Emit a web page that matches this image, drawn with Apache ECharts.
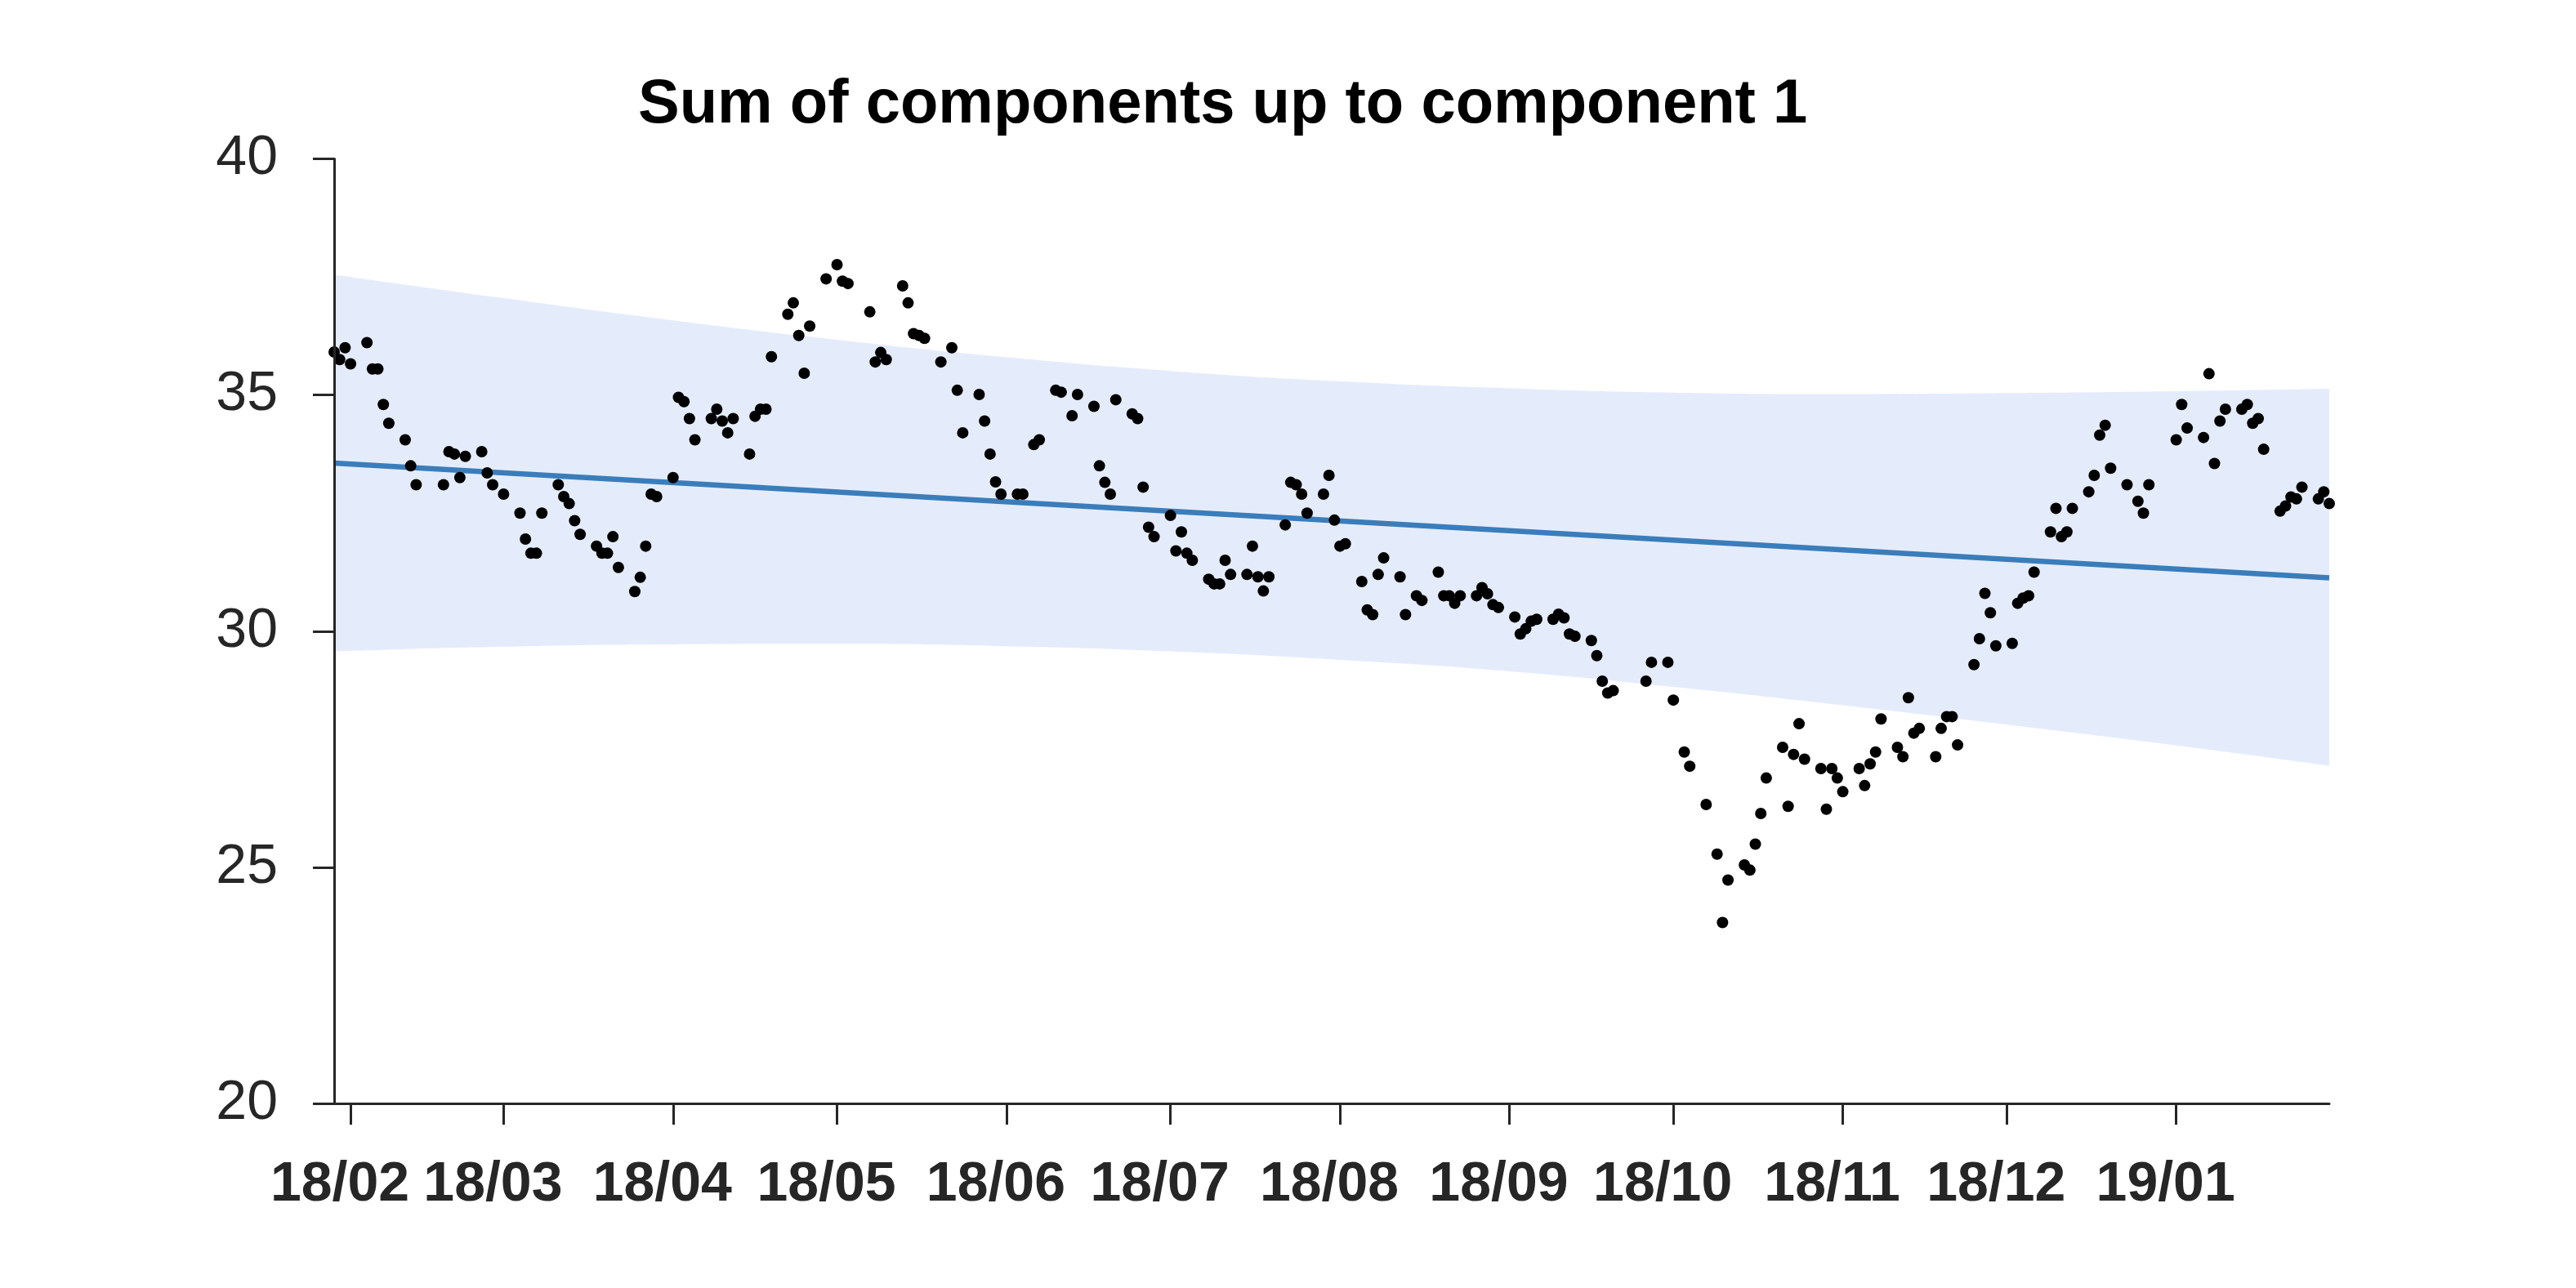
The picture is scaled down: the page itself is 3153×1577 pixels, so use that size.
<!DOCTYPE html>
<html><head><meta charset="utf-8">
<script src="https://cdn.jsdelivr.net/npm/echarts@6/dist/echarts.min.js"></script>
<style>html,body{margin:0;padding:0;background:#fff}#c{width:3153px;height:1577px}</style>
</head><body><div id="c"></div>
<script>
const chartTitle = 'Sum of components up to component 1';

const dates = [
'2018-01-29','2018-01-30','2018-01-31',
'2018-02-01','2018-02-04','2018-02-05','2018-02-06','2018-02-07','2018-02-08','2018-02-11','2018-02-12','2018-02-13','2018-02-18','2018-02-19','2018-02-20','2018-02-21','2018-02-22','2018-02-25','2018-02-26','2018-02-27',
'2018-03-01','2018-03-04','2018-03-05','2018-03-06','2018-03-07','2018-03-08','2018-03-11','2018-03-12','2018-03-13','2018-03-14','2018-03-15','2018-03-18','2018-03-19','2018-03-20','2018-03-21','2018-03-22','2018-03-25','2018-03-26','2018-03-27','2018-03-28','2018-03-29',
'2018-04-01','2018-04-02','2018-04-03','2018-04-04','2018-04-05','2018-04-08','2018-04-09','2018-04-10','2018-04-11','2018-04-12','2018-04-15','2018-04-16','2018-04-17','2018-04-18','2018-04-19','2018-04-22','2018-04-23','2018-04-24','2018-04-25','2018-04-26','2018-04-29',
'2018-05-01','2018-05-02','2018-05-03','2018-05-07','2018-05-08','2018-05-09','2018-05-10','2018-05-13','2018-05-14','2018-05-15','2018-05-16','2018-05-17','2018-05-20','2018-05-22','2018-05-23','2018-05-24','2018-05-27','2018-05-28','2018-05-29','2018-05-30','2018-05-31',
'2018-06-03','2018-06-04','2018-06-06','2018-06-07','2018-06-10','2018-06-11','2018-06-13','2018-06-14','2018-06-17','2018-06-18','2018-06-19','2018-06-20','2018-06-21','2018-06-24','2018-06-25','2018-06-26','2018-06-27','2018-06-28',
'2018-07-01','2018-07-02','2018-07-03','2018-07-04','2018-07-05','2018-07-08','2018-07-09','2018-07-10','2018-07-11','2018-07-12','2018-07-15','2018-07-16','2018-07-17','2018-07-18','2018-07-19','2018-07-22','2018-07-23','2018-07-24','2018-07-25','2018-07-26','2018-07-29','2018-07-30','2018-07-31',
'2018-08-01','2018-08-02','2018-08-05','2018-08-06','2018-08-07','2018-08-08','2018-08-09','2018-08-12','2018-08-13','2018-08-15','2018-08-16','2018-08-19','2018-08-20','2018-08-21','2018-08-22','2018-08-23','2018-08-26','2018-08-27','2018-08-28','2018-08-29','2018-08-30',
'2018-09-02','2018-09-03','2018-09-04','2018-09-05','2018-09-06','2018-09-09','2018-09-10','2018-09-11','2018-09-12','2018-09-13','2018-09-16','2018-09-17','2018-09-18','2018-09-19','2018-09-20','2018-09-26','2018-09-27','2018-09-30',
'2018-10-01','2018-10-03','2018-10-04','2018-10-07','2018-10-09','2018-10-10','2018-10-11','2018-10-14','2018-10-15','2018-10-16','2018-10-17','2018-10-18','2018-10-21','2018-10-22','2018-10-23','2018-10-24','2018-10-25','2018-10-28','2018-10-29','2018-10-30','2018-10-31',
'2018-11-01','2018-11-04','2018-11-05','2018-11-06','2018-11-07','2018-11-08','2018-11-11','2018-11-12','2018-11-13','2018-11-14','2018-11-15','2018-11-18','2018-11-19','2018-11-20','2018-11-21','2018-11-22','2018-11-25','2018-11-26','2018-11-27','2018-11-28','2018-11-29',
'2018-12-02','2018-12-03','2018-12-04','2018-12-05','2018-12-06','2018-12-09','2018-12-10','2018-12-11','2018-12-12','2018-12-13','2018-12-16','2018-12-17','2018-12-18','2018-12-19','2018-12-20','2018-12-23','2018-12-25','2018-12-26','2018-12-27',
'2019-01-01','2019-01-02','2019-01-03','2019-01-06','2019-01-07','2019-01-08','2019-01-09','2019-01-10','2019-01-13','2019-01-14','2019-01-15','2019-01-16','2019-01-17','2019-01-20','2019-01-21','2019-01-22','2019-01-23','2019-01-24','2019-01-27','2019-01-28','2019-01-29'
];

const values = [
35.91,35.75,36.00,
35.66,36.11,35.55,35.55,34.80,34.40,34.05,33.50,33.10,33.10,33.80,33.75,33.25,33.70,33.80,33.35,33.10,
32.90,32.50,31.95,31.65,31.65,32.50,33.10,32.85,32.70,32.34,32.05,31.80,31.65,31.65,32.00,31.35,30.84,31.14,31.80,32.90,32.85,
33.25,34.95,34.86,34.50,34.05,34.50,34.70,34.45,34.20,34.50,33.75,34.55,34.70,34.70,35.81,36.71,36.95,36.26,35.46,36.46,37.46,
37.76,37.41,37.36,36.76,35.70,35.90,35.75,37.31,36.95,36.30,36.26,36.20,35.70,36.00,35.10,34.20,35.01,34.45,33.75,33.16,32.90,
32.90,32.90,33.95,34.05,35.10,35.06,34.56,35.01,34.76,33.50,33.15,32.90,34.90,34.60,34.50,33.05,32.20,32.00,
32.45,31.70,32.10,31.65,31.50,31.10,31.00,31.00,31.50,31.20,31.20,31.80,31.15,30.85,31.15,32.25,33.15,33.10,32.90,32.50,32.90,33.30,32.35,
31.80,31.85,31.05,30.45,30.35,31.20,31.55,31.15,30.35,30.75,30.65,31.25,30.75,30.75,30.59,30.75,30.75,30.92,30.79,30.56,30.50,
30.30,29.94,30.05,30.21,30.25,30.25,30.36,30.28,29.94,29.89,29.80,29.48,28.94,28.69,28.74,28.94,29.34,29.34,
28.54,27.44,27.14,26.33,25.28,23.83,24.73,25.05,24.94,25.49,26.14,26.89,27.54,26.29,27.39,28.04,27.29,27.09,26.23,27.09,26.89,
26.60,27.09,26.73,27.19,27.44,28.14,27.54,27.34,28.59,27.84,27.94,27.34,27.94,28.19,28.19,27.59,29.29,29.84,30.80,30.39,29.69,
29.74,30.59,30.70,30.75,31.25,32.10,32.60,32.00,32.10,32.60,32.95,33.30,34.15,34.36,33.45,33.10,32.75,32.50,33.10,
34.05,34.80,34.30,34.10,35.45,33.55,34.45,34.70,34.70,34.80,34.40,34.50,33.85,32.54,32.65,32.84,32.80,33.05,32.80,32.95,32.70
];

const trendDates = ['2018-01-29','2019-01-29'];
const trendValues = [33.56, 31.13];

const bandDates = ['2018-01-29','2018-03-01','2018-04-01','2018-05-01','2018-06-01','2018-07-01','2018-08-01','2018-09-01','2018-10-01','2018-11-01','2018-12-01','2019-01-01','2019-01-29'];
const bandUpper = [37.55,37.05,36.58,36.17,35.80,35.51,35.29,35.14,35.05,35.02,35.04,35.08,35.13];
const bandLower = [29.57,29.67,29.72,29.73,29.68,29.57,29.39,29.15,28.82,28.43,28.02,27.58,27.15];

const monthTicks = ['2018-02-01','2018-03-01','2018-04-01','2018-05-01','2018-06-01','2018-07-01','2018-08-01','2018-09-01','2018-10-01','2018-11-01','2018-12-01','2019-01-01'];
const yMin = 20, yMax = 40, yStep = 5;

function ts(s){ const p = s.split('-').map(Number); return new Date(p[0], p[1]-1, p[2]).getTime(); }
function pad2(n){ return String(n).padStart(2,'0'); }

const axisColor = '#262626';
const fontFam = 'Liberation Sans, Arial, Helvetica, sans-serif';
const chart = echarts.init(document.getElementById('c'), null, {renderer:'canvas'});
chart.setOption({
  animation: false,
  backgroundColor: '#ffffff',
  title: {
    text: chartTitle, left: 781, top: 91, padding: 0,
    textStyle: {fontSize: 76, fontWeight: 'bold', color: '#000', fontFamily: fontFam}
  },
  grid: {left: 409, right: 302, top: 194.5, bottom: 226, containLabel: false, outerBoundsMode: 'none'},
  xAxis: {
    type: 'value', z: 10,
    scale: true,
    min: ts(dates[0]), max: ts(dates[dates.length-1]),
    axisLine: {show: true, onZero: false, lineStyle: {color: axisColor, width: 3}},
    axisTick: {show: true, length: 26, lineStyle: {color: axisColor, width: 3}, customValues: monthTicks.map(ts)},
    axisLabel: {
      customValues: monthTicks.map(ts),
      formatter: function(v){ const d = new Date(v); return pad2(d.getFullYear()%100) + '/' + pad2(d.getMonth()+1); },
      fontSize: 68, fontWeight: 'bold', color: axisColor, fontFamily: fontFam,
      margin: 66, padding: [0, 26, 0, 0]
    },
    splitLine: {show: false}
  },
  yAxis: {
    type: 'value', z: 10, min: yMin, max: yMax, interval: yStep,
    axisLine: {show: true, onZero: false, lineStyle: {color: axisColor, width: 3}},
    axisTick: {show: true, length: 26, lineStyle: {color: axisColor, width: 3}},
    axisLabel: {fontSize: 68, color: axisColor, fontFamily: fontFam, margin: 69},
    splitLine: {show: false}
  },
  series: [
    {
      name: 'bandUpper', type: 'line', z: 1, smooth: true, symbol: 'none', silent: true,
      lineStyle: {width: 0, opacity: 0},
      areaStyle: {color: '#e4ecfc', opacity: 1, origin: 'start'},
      data: bandDates.map((d,i) => [ts(d), bandUpper[i]])
    },
    {
      name: 'bandLower', type: 'line', z: 1, smooth: true, symbol: 'none', silent: true,
      lineStyle: {width: 0, opacity: 0},
      areaStyle: {color: '#ffffff', opacity: 1, origin: 'start'},
      data: bandDates.map((d,i) => [ts(d), bandLower[i]])
    },
    {
      type: 'line', z: 2, symbol: 'none', silent: true,
      lineStyle: {color: '#3a7dba', width: 6.5},
      data: trendDates.map((d,i) => [ts(d), trendValues[i]])
    },
    {
      type: 'scatter', z: 5, symbol: 'circle', symbolSize: 14,
      itemStyle: {color: '#000000', opacity: 1},
      data: dates.map((d,i) => [ts(d), values[i]])
    }
  ]
});
</script>
</body></html>
